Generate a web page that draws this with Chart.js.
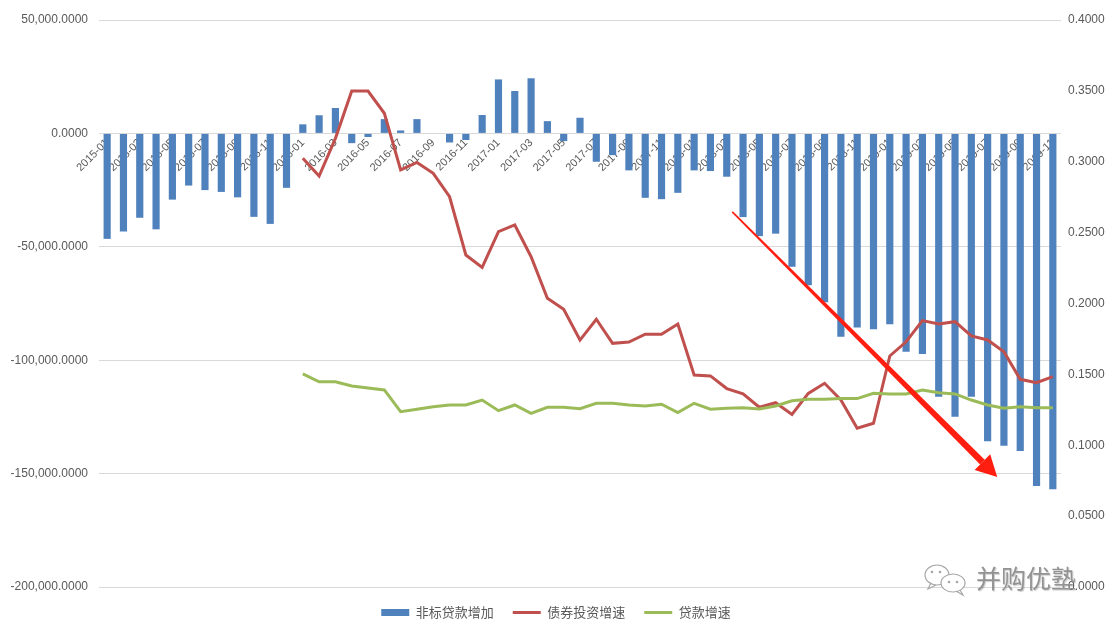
<!DOCTYPE html>
<html>
<head>
<meta charset="utf-8">
<script src="https://cdn.jsdelivr.net/npm/chart.js@4.4.1/dist/chart.umd.min.js"></script>
<style>
    html, body { margin: 0; padding: 0; background: #ffffff; }
    #wrap { width: 1112px; height: 621px; }
</style>
</head>
<body>
<div id="wrap"><canvas id="chartMain" width="1112" height="621"></canvas></div>
<script>
// monthly categories
const MONTHS = [
    '2015-01', '2015-02', '2015-03', '2015-04', '2015-05', '2015-06', '2015-07', '2015-08', '2015-09', '2015-10', '2015-11', '2015-12',
    '2016-01', '2016-02', '2016-03', '2016-04', '2016-05', '2016-06', '2016-07', '2016-08', '2016-09', '2016-10', '2016-11', '2016-12',
    '2017-01', '2017-02', '2017-03', '2017-04', '2017-05', '2017-06', '2017-07', '2017-08', '2017-09', '2017-10', '2017-11', '2017-12',
    '2018-01', '2018-02', '2018-03', '2018-04', '2018-05', '2018-06', '2018-07', '2018-08', '2018-09', '2018-10', '2018-11', '2018-12',
    '2019-01', '2019-02', '2019-03', '2019-04', '2019-05', '2019-06', '2019-07', '2019-08', '2019-09', '2019-10', '2019-11'
];

// 非标贷款增加 (left axis)
const NONSTD_LOANS = [
    -46500, -43300, -37200, -42300, -29200, -23000, -25000, -25800, -28200, -36800, -39900, -24000,
    4000, 8000, 11200, -4300, -1600, 6300, 1300, 6300, 0, -4000, -2900, 8100,
    23800, 18700, 24300, 5400, -3400, 6900, -12500, -9600, -16300, -28400, -29000, -26200,
    -16300, -16600, -19100, -36900, -45300, -44200, -58800, -66900, -74500, -89700, -85600, -86400,
    -84100, -96300, -97300, -116100, -124900, -116100, -135700, -137700, -140000, -155500, -156900
];

// 债券投资增速 (right axis)
const BOND_GROWTH = [
    null, null, null, null, null, null, null, null, null, null, null, null,
    0.3024, 0.2899, 0.3165, 0.3499, 0.3499, 0.3342, 0.2942, 0.2995, 0.2918, 0.2753, 0.2342, 0.2255,
    0.2507, 0.2554, 0.2330, 0.2037, 0.1959, 0.1742, 0.1889, 0.1719, 0.1728, 0.1783, 0.1783, 0.1855,
    0.1496, 0.1489, 0.1400, 0.1362, 0.1268, 0.1300, 0.1218, 0.1366, 0.1437, 0.1320, 0.1120, 0.1155,
    0.1630, 0.1730, 0.1879, 0.1855, 0.1872, 0.1771, 0.1743, 0.1660, 0.1465, 0.1441, 0.1484
];

// 贷款增速 (right axis)
const LOAN_GROWTH = [
    null, null, null, null, null, null, null, null, null, null, null, null,
    0.1503, 0.1448, 0.1448, 0.1418, 0.1404, 0.1390, 0.1237, 0.1254, 0.1272, 0.1284, 0.1284, 0.1319,
    0.1244, 0.1284, 0.1225, 0.1268, 0.1268, 0.1258, 0.1296, 0.1296, 0.1284, 0.1277, 0.1289, 0.1230,
    0.1296, 0.1254, 0.1261, 0.1265, 0.1256, 0.1277, 0.1314, 0.1324, 0.1324, 0.1329, 0.1329, 0.1366,
    0.1362, 0.1362, 0.1390, 0.1371, 0.1362, 0.1319, 0.1284, 0.1261, 0.1272, 0.1265, 0.1265
];

// trend arrow, in (category index, left-axis value)
const ARROW_FROM = [38.34, -34600];
const ARROW_TO = [54.59, -151500];

const LABEL_COLOR = '#595959';
const GRID_COLOR = '#d9d9d9';
const NUM_FONT = 'Liberation Sans';
const CJK_FONT = 'Noto Sans CJK SC';

const fmtLeft = (v) => v.toLocaleString('en-US', { minimumFractionDigits: 4, maximumFractionDigits: 4 });

const overlayPlugin = {
    id: 'overlay',
    afterDatasetsDraw(chart) {
        const { ctx } = chart;
        const xs = chart.scales.x, ys = chart.scales.y;
        const x0 = xs.getPixelForValue(ARROW_FROM[0]), y0 = ys.getPixelForValue(ARROW_FROM[1]);
        const x1 = xs.getPixelForValue(ARROW_TO[0]), y1 = ys.getPixelForValue(ARROW_TO[1]);
        const len = Math.hypot(x1 - x0, y1 - y0);
        const dx = (x1 - x0) / len, dy = (y1 - y0) / len;
        const nx = -dy, ny = dx;
        const headLen = 21, headHalf = 11;
        const bx = x1 - dx * headLen, by = y1 - dy * headLen;
        const w0 = 0.8, w1 = 3.3;

        ctx.save();
        ctx.fillStyle = '#ff1e0f';
        // tapered shaft
        ctx.beginPath();
        ctx.moveTo(x0 + nx * w0, y0 + ny * w0);
        ctx.lineTo(bx + nx * w1, by + ny * w1);
        ctx.lineTo(bx - nx * w1, by - ny * w1);
        ctx.lineTo(x0 - nx * w0, y0 - ny * w0);
        ctx.closePath();
        ctx.fill();
        // head
        ctx.beginPath();
        ctx.moveTo(x1, y1);
        ctx.lineTo(bx + nx * headHalf, by + ny * headHalf);
        ctx.lineTo(bx - nx * headHalf, by - ny * headHalf);
        ctx.closePath();
        ctx.fill();
        ctx.restore();
    },
    afterDraw(chart) {
        const { ctx } = chart;
        ctx.save();
        // wechat-style bubbles
        ctx.strokeStyle = '#a6a6a6';
        ctx.lineWidth = 1.2;
        ctx.fillStyle = '#ffffff';
        ctx.beginPath();
        ctx.ellipse(937, 575, 12, 10, 0, 0, Math.PI * 2);
        ctx.moveTo(931, 583);
        ctx.lineTo(928, 589);
        ctx.lineTo(936, 585);
        ctx.fill();
        ctx.stroke();
        ctx.beginPath();
        ctx.ellipse(953, 583, 12, 9, 0, 0, Math.PI * 2);
        ctx.fill();
        ctx.stroke();
        ctx.beginPath();
        ctx.moveTo(960, 590);
        ctx.lineTo(963, 595);
        ctx.lineTo(956, 591);
        ctx.stroke();
        ctx.fillStyle = '#a6a6a6';
        [[932, 572], [940, 572], [949, 582], [957, 582]].forEach(([px, py]) => {
            ctx.beginPath();
            ctx.arc(px, py, 1.3, 0, Math.PI * 2);
            ctx.fill();
        });
        // account name
        ctx.font = `25px "${CJK_FONT}"`;
        ctx.textBaseline = 'middle';
        ctx.textAlign = 'left';
        ctx.fillStyle = '#939393';
        ctx.shadowColor = 'rgba(0,0,0,0.2)';
        ctx.shadowBlur = 1;
        ctx.shadowOffsetX = 1;
        ctx.shadowOffsetY = 1;
        ctx.fillText('并购优塾', 976, 578);
        ctx.restore();
    }
};

const mainChart = new Chart('chartMain', {
    data: {
        labels: MONTHS,
        datasets: [
            {
                type: 'bar',
                label: '非标贷款增加',
                data: NONSTD_LOANS,
                yAxisID: 'y',
                backgroundColor: '#4f81bd',
                categoryPercentage: 1,
                barPercentage: 0.44,
                order: 2
            },
            {
                type: 'line',
                label: '债券投资增速',
                data: BOND_GROWTH,
                yAxisID: 'y1',
                borderColor: '#c0504d',
                backgroundColor: '#c0504d',
                borderWidth: 3,
                pointRadius: 0,
                tension: 0,
                order: 1
            },
            {
                type: 'line',
                label: '贷款增速',
                data: LOAN_GROWTH,
                yAxisID: 'y1',
                borderColor: '#9bbb59',
                backgroundColor: '#9bbb59',
                borderWidth: 3,
                pointRadius: 0,
                tension: 0,
                order: 0
            }
        ]
    },
    options: {
        responsive: false,
        devicePixelRatio: 1,
        animation: false,
        layout: {
            // legend sits low under the plot, so let its box run past the bottom edge
            padding: { top: 20, bottom: -8, left: 0, right: 0 }
        },
        plugins: {
            tooltip: { enabled: false },
            legend: {
                position: 'bottom',
                labels: {
                    color: LABEL_COLOR,
                    font: { family: CJK_FONT, size: 13 },
                    usePointStyle: true,
                    pointStyleWidth: 28,
                    boxWidth: 28,
                    boxHeight: 7,
                    padding: 19,
                    sort: (a, b) => a.datasetIndex - b.datasetIndex,
                    generateLabels: (chart) => {
                        const items = Chart.defaults.plugins.legend.labels.generateLabels(chart);
                        items.forEach((item) => {
                            const ds = chart.data.datasets[item.datasetIndex];
                            if (ds.type === 'bar') {
                                item.pointStyle = 'rect';
                                item.lineWidth = 0;
                            } else {
                                item.pointStyle = 'line';
                                item.lineWidth = 3;
                                item.strokeStyle = ds.borderColor;
                            }
                        });
                        return items;
                    }
                }
            }
        },
        scales: {
            x: {
                position: { y: 0 },
                grid: { display: false, drawTicks: false },
                border: { display: false },
                ticks: {
                    autoSkip: false,
                    minRotation: 45,
                    maxRotation: 45,
                    padding: 3,
                    color: LABEL_COLOR,
                    font: { family: NUM_FONT, size: 11 },
                    callback: function (value, index) {
                        return index % 2 === 0 ? this.getLabelForValue(value) : '';
                    }
                }
            },
            y: {
                position: 'left',
                min: -200000,
                max: 50000,
                grid: { color: GRID_COLOR, drawTicks: false },
                border: { display: false },
                ticks: {
                    stepSize: 50000,
                    padding: 11,
                    color: LABEL_COLOR,
                    font: { family: NUM_FONT, size: 12 },
                    callback: (v) => fmtLeft(v)
                },
                afterFit: (scale) => { scale.width = 99; }
            },
            y1: {
                position: 'right',
                min: 0,
                max: 0.4,
                grid: { display: false, drawTicks: false },
                border: { display: false },
                ticks: {
                    stepSize: 0.05,
                    padding: 7,
                    color: LABEL_COLOR,
                    font: { family: NUM_FONT, size: 12 },
                    callback: (v) => v.toFixed(4)
                },
                afterFit: (scale) => { scale.width = 51; }
            }
        }
    },
    plugins: [overlayPlugin]
});
</script>
</body>
</html>
